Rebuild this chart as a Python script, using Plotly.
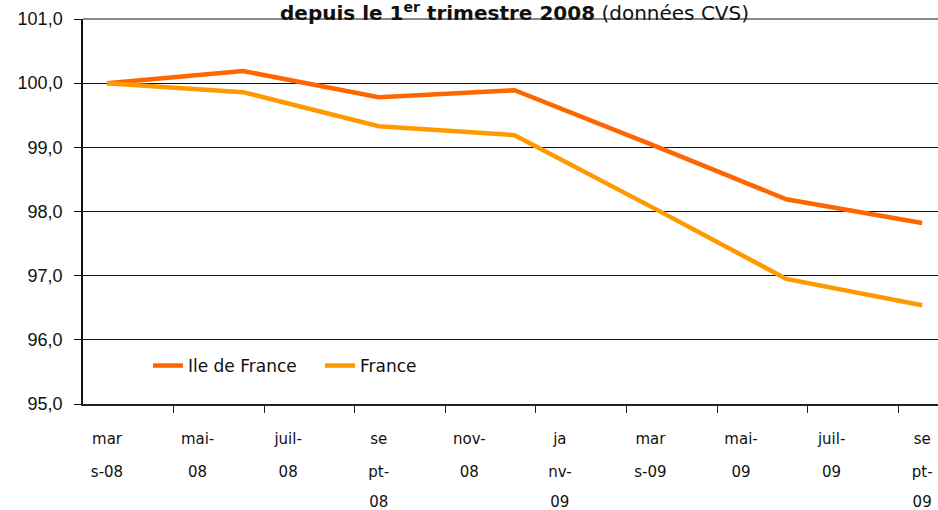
import plotly.graph_objects as go

# months since March 2008
months = [0, 3, 6, 9, 12, 15, 18]
idf = [100.0, 100.19, 99.78, 99.89, 99.05, 98.19, 97.82]
france = [100.0, 99.86, 99.33, 99.19, 98.08, 96.95, 96.54]

label_pos = [0, 2, 4, 6, 8, 10, 12, 14, 16, 18]
label_line1 = ["mar", "mai-", "juil-", "se", "nov-", "ja", "mar", "mai-", "juil-", "se"]
label_line2 = ["s-08", "08", "08", "pt-", "08", "nv-", "s-09", "09", "09", "pt-"]
label3_pos = [6, 10, 18]
label_line3 = ["08", "09", "09"]
tick_marks = [1.47 + 2 * k for k in range(9)]

XR = [-0.53, 18.35]

fig = go.Figure()
fig.add_trace(go.Scatter(x=months, y=idf, mode="lines", name="Ile de France",
                         line=dict(color="#FF6600", width=4.5)))
fig.add_trace(go.Scatter(x=months, y=france, mode="lines", name="France",
                         line=dict(color="#FF9900", width=4.5)))
# empty helper traces so the label axes are drawn
for ax in ["x2", "x3", "x4"]:
    fig.add_trace(go.Scatter(x=[], y=[], xaxis=ax, yaxis="y", showlegend=False,
                             hoverinfo="skip"))

xfont = dict(family="DejaVu Sans", size=15, color="#111")
common = dict(range=XR, showgrid=False, zeroline=False, showline=False, ticks="",
              tickfont=xfont, overlaying="x", anchor="y",
              side="bottom", fixedrange=True, automargin=False)

fig.update_layout(
    width=938, height=510,
    margin=dict(l=83, r=0, t=19, b=106, autoexpand=False),
    paper_bgcolor="white", plot_bgcolor="white",
    separators=", ",
    showlegend=True,
    legend=dict(orientation="h", x=0.076, xanchor="left", y=0.0987, yanchor="middle",
                font=dict(family="DejaVu Sans", size=17, color="#111"),
                bgcolor="rgba(0,0,0,0)", entrywidth=127),
    xaxis=dict(range=XR, showgrid=False, zeroline=False, showline=True,
               linecolor="#222", linewidth=1.5, ticks="outside", ticklen=7,
               tickcolor="#222", tickvals=tick_marks, showticklabels=False,
               automargin=False),
    xaxis2=dict(common, tickvals=label_pos, ticktext=label_line1, ticklabelstandoff=24),
    xaxis3=dict(common, tickvals=label_pos, ticktext=label_line2, ticklabelstandoff=57),
    xaxis4=dict(common, tickvals=label3_pos, ticktext=label_line3, ticklabelstandoff=87),
    yaxis=dict(range=[95, 101], dtick=1, tickformat=".1f", showgrid=True,
               gridcolor="#111", gridwidth=1, zeroline=False, showline=True,
               linecolor="#111", linewidth=1.5, ticks="outside", ticklen=7,
               tickcolor="#111", ticklabelstandoff=8, automargin=False,
               tickfont=dict(family="Liberation Sans", size=18, color="#111")),
    shapes=[dict(type="line", xref="paper", yref="paper", x0=0, x1=1, y0=1, y1=1,
                 line=dict(color="#888", width=2))],
    annotations=[dict(xref="paper", yref="paper", x=0.505, y=1 + 22 / 385,
                      xanchor="center", yanchor="top", showarrow=False,
                      text="<b>depuis le 1<sup>er</sup> trimestre 2008</b> (données CVS)",
                      font=dict(family="DejaVu Sans", size=20, color="#111"))],
)

fig.write_html("out.html", config={"displayModeBar": False},
               post_script="document.body.style.margin='0';document.body.style.overflow='hidden';")
